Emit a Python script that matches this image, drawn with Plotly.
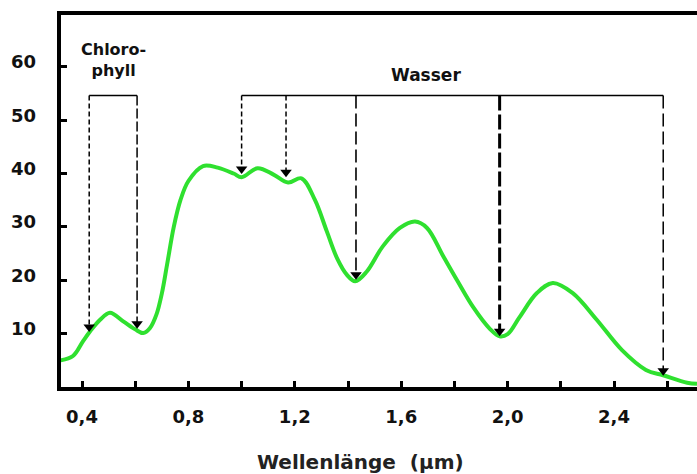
import plotly.graph_objects as go

# ---- data ----
wavelength = [0.32, 0.366, 0.404, 0.43, 0.468, 0.505, 0.555, 0.60, 0.63, 0.655, 0.68, 0.70,
              0.72, 0.745, 0.77, 0.80, 0.855, 0.91, 0.97, 1.0, 1.06, 1.12, 1.175, 1.225, 1.276,
              1.32, 1.36, 1.396, 1.427, 1.47, 1.53, 1.595, 1.652, 1.697, 1.757, 1.81, 1.87,
              1.935, 1.97, 2.0, 2.045, 2.11, 2.17, 2.245, 2.335, 2.43, 2.52, 2.585, 2.675, 2.712]
reflectance = [5.0, 5.8, 8.6, 10.4, 12.6, 13.9, 12.3, 10.8, 10.1, 11.0, 13.6, 17.5,
               23.0, 30.0, 35.0, 38.6, 41.4, 41.1, 40.0, 39.3, 41.0, 39.8, 38.3, 39.1, 35.0,
               29.2, 24.0, 21.0, 19.8, 21.6, 26.3, 29.8, 31.0, 29.8, 24.6, 20.0, 15.0,
               10.8, 9.5, 9.9, 13.1, 17.6, 19.5, 17.6, 12.6, 6.9, 3.2, 2.2, 0.8, 0.6]

chl_x = [0.427, 0.607]
chl_tip = [10.4, 11.0]
wat_x = [1.0, 1.167, 1.43, 1.97, 2.585]
wat_tip = [40.0, 39.4, 20.2, 9.6, 2.2]
bracket_y = 54.6

x_tickvals = [0.4, 0.6, 0.8, 1.0, 1.2, 1.4, 1.6, 1.8, 2.0, 2.2, 2.4, 2.6]
x_ticktext = ["0,4", "", "0,8", "", "1,2", "", "1,6", "", "2,0", "", "2,4", ""]
y_tickvals = [10, 20, 30, 40, 50, 60]
y_ticktext = ["10", "20", "30", "40", "50", "60"]

# ---- styling ----
FONT = "DejaVu Sans"
W, H = 697, 474
ML, MR, MT, MB = 61, 0, 15, 87
YMAX = 69.7
px_per_unit = (H - MT - MB) / YMAX
head_off = 4.5 / px_per_unit  # marker centre above tip

chl_dash = ["5px,3px", "10px,3px"]
chl_width = [1.5, 1.5]
wat_dash = ["5px,3px", "5px,3px", "13px,5px", "15px,4px", "13px,5px"]
wat_width = [1.5, 1.5, 1.6, 3.0, 1.5]

fig = go.Figure()

fig.add_trace(go.Scatter(
    x=wavelength, y=reflectance, mode="lines",
    line=dict(color="#2fe02f", width=4, shape="spline", smoothing=1.0),
    hoverinfo="skip", showlegend=False))

def add_group(xs, tips, dashes, widths):
    fig.add_trace(go.Scatter(
        x=[xs[0], xs[-1]], y=[bracket_y, bracket_y], mode="lines",
        line=dict(color="black", width=1.5), showlegend=False, hoverinfo="skip"))
    for xv, tv, d, w in zip(xs, tips, dashes, widths):
        fig.add_trace(go.Scatter(
            x=[xv, xv], y=[bracket_y, tv + head_off], mode="lines",
            line=dict(color="black", width=w, dash=d), showlegend=False, hoverinfo="skip"))
    fig.add_trace(go.Scatter(
        x=xs, y=[t + head_off for t in tips], mode="markers",
        marker=dict(symbol="triangle-down", size=10, color="black"),
        showlegend=False, hoverinfo="skip"))

add_group(chl_x, chl_tip, chl_dash, chl_width)
add_group(wat_x, wat_tip, wat_dash, wat_width)

fig.add_annotation(x=0.52, y=61.3, xref="x", yref="y", text="Chloro-<br>phyll",
                   showarrow=False, align="center",
                   font=dict(family=FONT, size=16, color="#111", weight="bold"))
fig.add_annotation(x=1.693, y=58.4, xref="x", yref="y", text="Wasser",
                   showarrow=False,
                   font=dict(family=FONT, size=17, color="#111", weight="bold"))
fig.add_annotation(x=(360 - ML) / (W - ML - MR), y=-(462 - (H - MB)) / (H - MT - MB),
                   xref="paper", yref="paper", text="Wellenlänge  (µm)",
                   showarrow=False, xanchor="center", yanchor="middle",
                   font=dict(family=FONT, size=20, color="#222", weight="bold"))

# y tick labels sit a little above their ticks in the reference
for v, t in zip(y_tickvals, y_ticktext):
    fig.add_annotation(x=0, y=v, xref="paper", yref="y", text=t, showarrow=False,
                       xanchor="right", yanchor="middle", xshift=-23, yshift=5,
                       font=dict(family=FONT, size=18, color="#111", weight="bold"))

fig.update_layout(
    width=W, height=H,
    margin=dict(l=ML, r=MR, t=MT, b=MB),
    paper_bgcolor="white", plot_bgcolor="white",
    showlegend=False,
)
fig.update_xaxes(
    range=[0.321, 2.712], tickmode="array", tickvals=x_tickvals, ticktext=x_ticktext,
    showgrid=False, zeroline=False, showline=True, linecolor="black", linewidth=4,
    mirror=True, ticks="inside", ticklen=6, tickwidth=3, tickcolor="black",
    ticklabelstandoff=10,
    tickfont=dict(family=FONT, size=18, color="#111", weight="bold"))
fig.update_yaxes(
    range=[0, YMAX], tickmode="array", tickvals=y_tickvals, showticklabels=False,
    showgrid=False, zeroline=False, showline=True, linecolor="black", linewidth=4,
    ticks="inside", ticklen=6, tickwidth=3, tickcolor="black")

fig.write_html("out.html")
